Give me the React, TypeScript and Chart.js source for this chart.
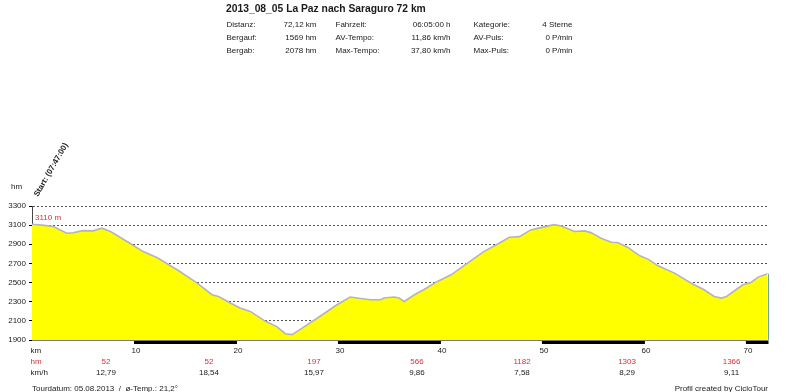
import React, { useEffect, useRef } from 'react';
import { Chart, registerables } from 'chart.js';
Chart.register(...registerables);

const FONT = '"Liberation Sans", Arial, sans-serif';

const TITLE = '2013_08_05 La Paz nach Saraguro 72 km';
const statLabelsA = ['Distanz:', 'Bergauf:', 'Bergab:'];
const statValuesA = ['72,12 km', '1569 hm', '2078 hm'];
const statLabelsB = ['Fahrzeit:', 'AV-Tempo:', 'Max-Tempo:'];
const statValuesB = ['06:05:00 h', '11,86 km/h', '37,80 km/h'];
const statLabelsC = ['Kategorie:', 'AV-Puls:', 'Max-Puls:'];
const statValuesC = ['4 Sterne', '0 P/min', '0 P/min'];

const distanceKm = [0, 1.2, 2.1, 3.4, 4, 5, 6, 6.85, 7.7, 9.6, 10.9, 12.25, 12.9, 14.5, 16.2, 17.65, 18.3, 19.45, 20.4, 21.4, 22.9, 24.0, 24.85, 25.5, 26.0, 28, 29.9, 31.2, 31.9, 33.2, 34.2, 34.5, 35.5, 36.0, 36.5, 37.5, 38.4, 39.75, 41.1, 42.7, 44.3, 45.8, 46.8, 47.8, 48.9, 49.9, 51.2, 51.9, 53.2, 54.2, 54.8, 55.8, 56.8, 57.4, 58.4, 59.6, 60.4, 61.4, 63.0, 64.6, 65.9, 66.9, 67.6, 68.1, 69.7, 70.5, 71.2, 72.12];
const elevationM = [3110, 3098, 3085, 3015, 3020, 3043, 3040, 3068, 3033, 2911, 2824, 2762, 2720, 2616, 2495, 2373, 2355, 2286, 2234, 2199, 2095, 2040, 1966, 1956, 1990, 2130, 2268, 2349, 2338, 2321, 2321, 2338, 2349, 2338, 2303, 2373, 2425, 2512, 2581, 2703, 2824, 2911, 2974, 2980, 3050, 3074, 3105, 3092, 3033, 3040, 3022, 2963, 2921, 2918, 2870, 2779, 2745, 2675, 2599, 2495, 2425, 2355, 2338, 2355, 2477, 2501, 2557, 2592];

const kmTickLabels = [10, 20, 30, 40, 50, 60, 70];
const segmentKm = [7.25, 17.35, 27.65, 37.75, 48.05, 58.35, 68.6];
const segmentHm = ['52', '52', '197', '566', '1182', '1303', '1366'];
const segmentSpeed = ['12,79', '18,54', '15,97', '9,86', '7,58', '8,29', '9,11'];

const START_LABEL = 'Start: (07:47:00)';
const START_ELEV_LABEL = '3110 m';
const FOOTER_LEFT = 'Tourdatum: 05.08.2013  /  \u00f8-Temp.: 21,2\u00b0';
const FOOTER_RIGHT = 'Profil created by CicloTour';

const RED = '#d8303c';
const TEXT = '#1a1a1a';

const overlayPlugin = {
  id: 'overlay',
  afterDraw(chart: any) {
    const ctx = chart.ctx as CanvasRenderingContext2D;
    const xs = chart.scales.x;
    const ys = chart.scales.y;
    const area = chart.chartArea;
    ctx.save();

    // header
    ctx.fillStyle = TEXT;
    ctx.textBaseline = 'middle';
    ctx.font = `bold 10.3px ${FONT}`;
    ctx.textAlign = 'left';
    ctx.fillText(TITLE, 226, 9);
    ctx.font = `8px ${FONT}`;
    const rowY = [24.5, 37.9, 51.2];
    for (let i = 0; i < 3; i++) {
      ctx.textAlign = 'left';
      ctx.fillText(statLabelsA[i], 226.5, rowY[i]);
      ctx.fillText(statLabelsB[i], 335.5, rowY[i]);
      ctx.fillText(statLabelsC[i], 473.5, rowY[i]);
      ctx.textAlign = 'right';
      ctx.fillText(statValuesA[i], 316.5, rowY[i]);
      ctx.fillText(statValuesB[i], 450.5, rowY[i]);
      ctx.fillText(statValuesC[i], 572.5, rowY[i]);
    }

    // hm unit
    ctx.textAlign = 'left';
    ctx.fillText('hm', 11, 186.5);

    // base line + km bar
    const x0 = xs.getPixelForValue(0);
    const xEnd = xs.getPixelForValue(distanceKm[distanceKm.length - 1]);
    ctx.fillStyle = '#7a7a7a';
    ctx.fillRect(area.left, area.bottom, xEnd - area.left + 1, 1);
    ctx.fillStyle = '#000';
    for (let k = 10; k < 72.12; k += 20) {
      const a = xs.getPixelForValue(k);
      const b = xs.getPixelForValue(Math.min(k + 10, 72.12));
      ctx.fillRect(a, area.bottom + 1, b - a + 1, 3);
    }
    // right edge line
    const lastY = ys.getPixelForValue(elevationM[elevationM.length - 1]);
    ctx.strokeStyle = '#6fa3a8';
    ctx.lineWidth = 1;
    ctx.beginPath();
    ctx.moveTo(Math.round(xEnd) + 0.5, lastY);
    ctx.lineTo(Math.round(xEnd) + 0.5, area.bottom);
    ctx.stroke();

    // x labels
    ctx.font = `8px ${FONT}`;
    ctx.fillStyle = TEXT;
    ctx.textAlign = 'left';
    ctx.fillText('km', 30.5, 350.7);
    ctx.textAlign = 'center';
    kmTickLabels.forEach((k) => {
      ctx.fillText(String(k), xs.getPixelForValue(k) + 2, 350.7);
    });
    ctx.textAlign = 'left';
    ctx.fillStyle = RED;
    ctx.fillText('hm', 30.5, 361.8);
    ctx.fillStyle = TEXT;
    ctx.fillText('km/h', 30.5, 372.8);
    ctx.textAlign = 'center';
    segmentKm.forEach((k, i) => {
      const px = xs.getPixelForValue(k);
      ctx.fillStyle = RED;
      ctx.fillText(segmentHm[i], px, 361.8);
      ctx.fillStyle = TEXT;
      ctx.fillText(segmentSpeed[i], px, 372.8);
    });

    // footer
    ctx.fillStyle = TEXT;
    ctx.textAlign = 'left';
    ctx.fillText(FOOTER_LEFT, 32, 388.3);
    ctx.textAlign = 'right';
    ctx.fillText(FOOTER_RIGHT, 768, 388.3);

    // start elevation label
    ctx.fillStyle = RED;
    ctx.textAlign = 'left';
    ctx.fillText(START_ELEV_LABEL, x0 + 3, 217.5);

    // rotated start label
    ctx.save();
    ctx.translate(x0 + 4, area.top - 10);
    ctx.rotate(-Math.PI / 3);
    ctx.fillStyle = TEXT;
    ctx.font = `bold 8px ${FONT}`;
    ctx.textAlign = 'left';
    ctx.textBaseline = 'middle';
    ctx.fillText(START_LABEL, 0, 0);
    ctx.restore();

    ctx.restore();
  },
};

export default function App() {
  const ref = useRef<HTMLCanvasElement>(null);
  useEffect(() => {
    document.body.style.margin = '0';
    const canvas = ref.current;
    if (!canvas) return;
    const chart = new Chart(canvas, {
      type: 'line',
      data: {
        datasets: [
          {
            data: distanceKm.map((d, i) => ({ x: d, y: elevationM[i] })),
            borderColor: '#b4b4bc',
            borderWidth: 1.6,
            backgroundColor: '#ffff00',
            fill: 'start',
            pointRadius: 0,
            tension: 0,
          },
        ],
      },
      options: {
        responsive: false,
        animation: false,
        devicePixelRatio: 1,
        layout: { padding: { left: 0, right: 32.5, top: 206, bottom: 52 } },
        plugins: { legend: { display: false }, tooltip: { enabled: false } },
        scales: {
          x: { type: 'linear', min: 0, max: 72.12, display: false },
          y: {
            min: 1900,
            max: 3300,
            z: 1,
            afterFit: (s: any) => {
              s.width = 32;
            },
            ticks: {
              stepSize: 200,
              padding: 3,
              color: TEXT,
              font: { family: FONT, size: 8 },
              callback: (v: any) => String(v),
            },
            grid: {
              color: '#555',
              lineWidth: 1,
              drawTicks: true,
              tickLength: 3,
              tickColor: '#000',
              tickBorderDash: [],
            },
            border: { display: true, color: '#444', width: 1, dash: [2, 2] },
          },
        },
      },
      plugins: [overlayPlugin],
    });
    return () => chart.destroy();
  }, []);
  return (
    <div style={{ width: 800, height: 392 }}>
      <canvas ref={ref} width={800} height={392} style={{ display: 'block' }} />
    </div>
  );
}
